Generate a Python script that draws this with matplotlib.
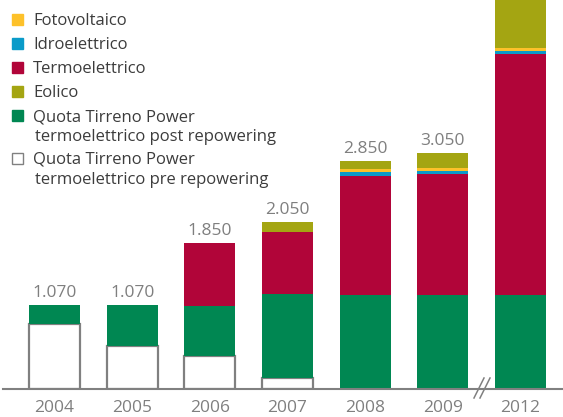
import numpy as np
import matplotlib.pyplot as plt
from matplotlib.patches import Rectangle

# data (MW)
years = ["2004", "2005", "2006", "2007", "2008", "2009", "2012"]
pre_repowering = [830, 550, 420, 140, 0, 0, 0]
post_repowering = [240, 520, 640, 1070, 1190, 1190, 1190]
termo = [0, 0, 790, 780, 1520, 1540, 3070]
idro = [0, 0, 0, 0, 40, 40, 30]
foto = [0, 0, 0, 0, 40, 40, 40]
eolico = [0, 0, 0, 130, 110, 190, 760]
total_labels = ["1.070", "1.070", "1.850", "2.050", "2.850", "3.050", ""]

legend_names = [["Fotovoltaico"], ["Idroelettrico"], ["Termoelettrico"], ["Eolico"],
                ["Quota Tirreno Power", "termoelettrico post repowering"],
                ["Quota Tirreno Power", "termoelettrico pre repowering"]]

c_foto = "#fdc12a"
c_idro = "#0a9bc9"
c_termo = "#b10539"
c_eol = "#a4a512"
c_green = "#008752"
c_grey = "#808080"

plt.rcParams['font.family'] = ['Open Sans', 'DejaVu Sans']

W, H = 563, 417
PX = 12.7  # MW per pixel
fig = plt.figure(figsize=(W / 100, H / 100), dpi=100)
ax = fig.add_axes([3 / W, (H - 389) / H, 560 / W, 389 / H])

x = np.arange(len(years))
width = 0.66

# stacked bars
bottom = np.zeros(len(years))
ax.bar(x, pre_repowering, width, bottom=bottom, color="white", edgecolor=c_grey, linewidth=1.6)
bottom += pre_repowering
for vals, col in [(post_repowering, c_green), (termo, c_termo), (idro, c_idro),
                  (foto, c_foto), (eolico, c_eol)]:
    ax.bar(x, vals, width, bottom=bottom, color=col, linewidth=0)
    bottom += vals

## total labels above bars
for xi, top, lab in zip(x, bottom, total_labels):
    if lab:
        ax.text(xi, top + 8 * PX, lab, ha="center", va="baseline", fontsize=12.5, color="#7f7f7f")

## year labels under the axis
for xi, yr in zip(x, years):
    ax.text(xi, -23 * PX, yr, ha="center", va="baseline", fontsize=12.5, color="#7f7f7f",
            clip_on=False)

ax.set_xlim(-0.663, 6.547)
ax.set_ylim(0, 389 * PX)
for s in ["top", "right", "left"]:
    ax.spines[s].set_visible(False)
ax.spines["bottom"].set_color(c_grey)
ax.spines["bottom"].set_linewidth(1.5)
ax.set_yticks([])
ax.set_xticks([])

# axis break marks between 2009 and 2012
for dx in [0, 6]:
    fig.add_artist(plt.Line2D([(474 + dx) / W, (484 + dx) / W], [(H - 398) / H, (H - 378) / H],
                              color=c_grey, linewidth=1.1))

# legend drawn by hand
rows = [19, 43, 67, 91, 115, 158]
cols = [c_foto, c_idro, c_termo, c_eol, c_green, "white"]
for yc, col, lines in zip(rows, cols, legend_names):
    ec = c_grey if col == "white" else col
    fig.add_artist(Rectangle((12 / W, (H - yc - 6) / H), 11 / W, 11 / H, facecolor=col,
                             edgecolor=ec, linewidth=1.0, transform=fig.transFigure))
    for i, line in enumerate(lines):
        fig.text((33 + 2 * i) / W, (H - yc - 6 - 20 * i) / H, line, ha="left", va="baseline",
                 fontsize=12, color="#3c3c3c")

fig.savefig("out.png", dpi=100)
